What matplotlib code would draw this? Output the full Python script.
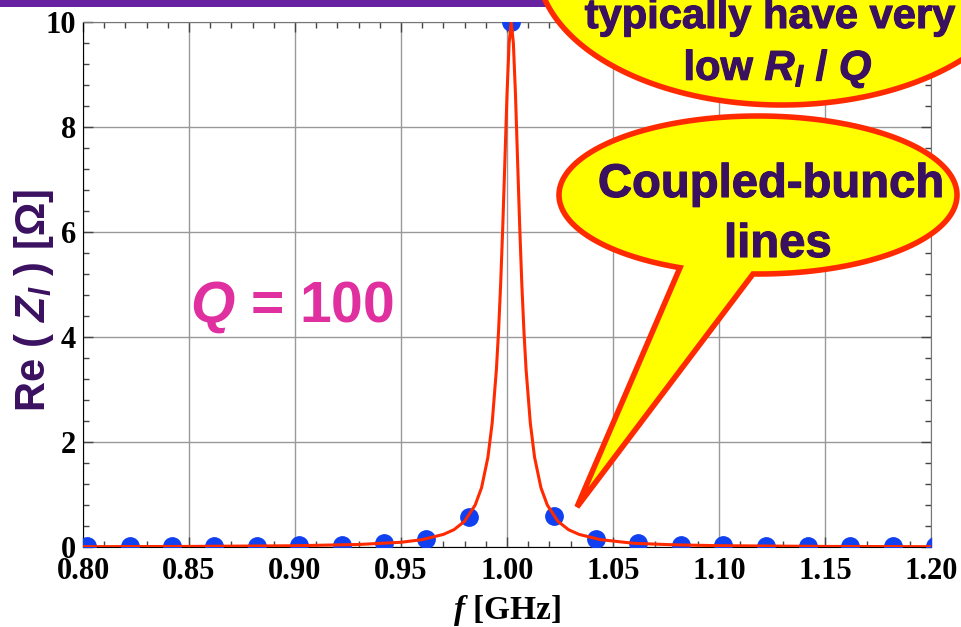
import matplotlib
matplotlib.use("Agg")
import matplotlib.pyplot as plt
import numpy as np
from matplotlib.patches import Polygon, Rectangle
from matplotlib.ticker import MultipleLocator, FormatStrFormatter
import matplotlib.patheffects as pe

plt.rcParams['mathtext.fontset'] = 'custom'
plt.rcParams['mathtext.it'] = 'Liberation Serif:italic:bold'
plt.rcParams['mathtext.sf'] = 'Liberation Sans:italic:bold'
plt.rcParams['mathtext.rm'] = 'Liberation Sans:bold'

# Data: sampled coupled-bunch lines (dots)
line_freq = [0.802, 0.822, 0.842, 0.862, 0.882, 0.902, 0.922, 0.942, 0.962, 0.982, 1.002,
             1.022, 1.042, 1.062, 1.082, 1.102, 1.122, 1.142, 1.162, 1.182, 1.202]
line_rez = [0.01, 0.01, 0.01, 0.015, 0.02, 0.03, 0.04, 0.07, 0.15, 0.58, 10.0,
            0.60, 0.16, 0.08, 0.04, 0.03, 0.02, 0.015, 0.01, 0.01, 0.01]

# Data: resonator curve
curve_freq = [0.80, 0.85, 0.90, 0.93, 0.95, 0.96, 0.97, 0.975, 0.98, 0.985, 0.988, 0.991,
              0.993, 0.995, 0.996, 0.997, 0.998, 0.999, 1.000, 1.001, 1.002, 1.003, 1.004,
              1.005, 1.006, 1.007, 1.008, 1.009, 1.011, 1.013, 1.016, 1.019, 1.024, 1.029,
              1.034, 1.044, 1.06, 1.08, 1.10, 1.15, 1.20]
curve_rez = [0.006, 0.011, 0.024, 0.048, 0.09, 0.14, 0.24, 0.33, 0.49, 0.80, 1.13, 1.71,
             2.36, 3.38, 4.10, 5.0, 6.10, 7.35, 8.62, 9.6, 10.0, 9.6, 8.62,
             7.35, 6.10, 5.0, 4.10, 3.38, 2.36, 1.71, 1.13, 0.80, 0.49, 0.33,
             0.24, 0.14, 0.07, 0.04, 0.025, 0.011, 0.006]

W, H = 962, 627
fig = plt.figure(figsize=(W / 100, H / 100), dpi=100)
ax = fig.add_axes([83 / W, 1 - 547 / H, 848 / W, 525 / H])

ax.plot(line_freq, line_rez, 'o', color='#1040F0', markersize=12.5, zorder=3)
ax.plot(curve_freq, curve_rez, '-', color='#FF2A00', linewidth=2.2, zorder=4)

ax.set_xlim(0.80, 1.20)
ax.set_ylim(0, 10)
ax.xaxis.set_major_locator(MultipleLocator(0.05))
ax.xaxis.set_minor_locator(MultipleLocator(0.01))
ax.xaxis.set_major_formatter(FormatStrFormatter('%.2f'))
ax.yaxis.set_major_locator(MultipleLocator(2))
ax.yaxis.set_minor_locator(MultipleLocator(0.4))
ax.grid(True, which='major', color='#999999', linewidth=1.0)
ax.set_axisbelow(True)

ax.tick_params(which='both', direction='in', top=True, right=True, color='#444444')
ax.tick_params(which='major', length=7, width=1)
ax.tick_params(which='minor', length=4, width=1)
ax.tick_params(axis='x', pad=7)
ax.tick_params(axis='y', pad=5)
for lab in ax.get_xticklabels() + ax.get_yticklabels():
    lab.set_fontfamily('Liberation Serif')
    lab.set_fontweight('bold')
    lab.set_fontsize(22)
for s in ['left', 'bottom']:
    ax.spines[s].set_color('black')
for s in ['top', 'right']:
    ax.spines[s].set_color('#777777')

ax.set_xlabel('$f$ [GHz]', fontfamily='Liberation Serif', fontweight='bold', fontsize=24)
ax.xaxis.set_label_coords(0.5, -0.088)
ax.set_ylabel(r'Re ( $\mathsf{Z_l}$ ) [Ω]', fontfamily='Liberation Sans', fontweight='bold',
              fontsize=30, color='#3A1060', va='center')
ax.yaxis.set_label_coords(-0.058, 0.47)


def px(x, y):
    return (x / W, 1 - y / H)


fig.text(*px(190, 322), r'$\mathsf{Q}$ = 100', fontfamily='Liberation Sans', fontweight='bold',
         fontsize=41, color='#E030A0', ha='left', va='baseline')

# purple title bar
fig.add_artist(Rectangle((0, 1 - 7 / H), 1, 7 / H, transform=fig.transFigure,
                         facecolor='#6622A0', edgecolor='none', zorder=5))


def balloon(cx, cy, a, b, tail=None):
    if tail is None:
        t = np.linspace(0, 2 * np.pi, 300)
        pts = [px(cx + a * np.cos(k), cy + b * np.sin(k)) for k in t]
    else:
        (x1, x2, tip) = tail
        t1 = np.arccos((x1 - cx) / a)
        t2 = np.arccos((x2 - cx) / a)
        t = np.linspace(t1, t2 + 2 * np.pi, 300)
        pts = [px(cx + a * np.cos(k), cy + b * np.sin(k)) for k in t]
        pts.append(px(*tip))
    poly = Polygon(pts, closed=True, transform=fig.transFigure, facecolor='#FFFF00',
                   edgecolor='#FF2A00', linewidth=4, zorder=6, joinstyle='miter')
    fig.add_artist(poly)


balloon(782, -36, 245, 141)
balloon(758, 195, 199, 79, tail=(680, 753, (577, 507)))

stroke = [pe.withStroke(linewidth=0.8, foreground='#3A1060')]
txt = dict(fontfamily='Liberation Sans', fontweight='bold', color='#3A1060',
           ha='center', va='baseline', zorder=7, path_effects=stroke)
fig.text(*px(770, 28), 'typically have very', fontsize=30, **txt)
fig.text(*px(778, 80), r'low $\mathsf{R_l}$ / $\mathsf{Q}$', fontsize=30, **txt)
fig.text(*px(771, 197), 'Coupled-bunch', fontsize=34, **txt)
fig.text(*px(778, 257), 'lines', fontsize=34, **txt)

fig.savefig('out.png', dpi=100)
